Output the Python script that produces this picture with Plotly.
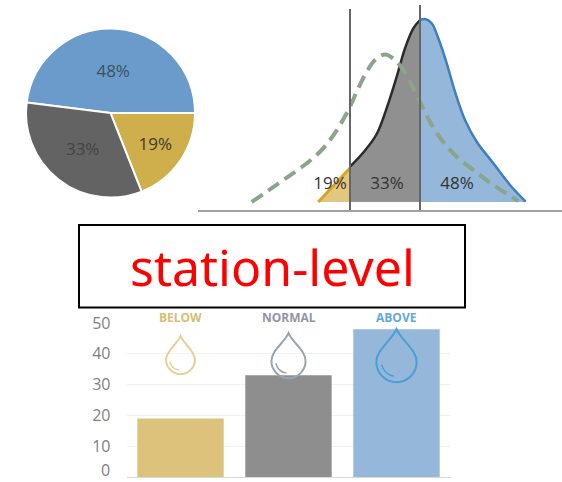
import plotly.graph_objects as go

W, H = 562, 482

# Tercile probabilities
pie_labels = ["Above", "Below", "Normal"]
pie_values = [48, 19, 33]
pie_colors = ["#6a9bcb", "#cfae4c", "#636363"]

# Forecast density, split at the two tercile boundaries
below_x = [120.3, 152]
below_y = [0, 34]
normal_x = [152, 165.3, 178.7, 190.3, 198.7, 207, 215.3, 222]
normal_y = [35.3, 49.5, 68, 98.7, 125.3, 153.7, 173.7, 182]
above_x = [222, 227, 233.7, 240.3, 248.7, 257, 267, 278.7, 295.3, 312, 327.7]
above_y = [182, 183, 178.7, 163.7, 138.7, 110.3, 82, 60.3, 38.7, 17, 0.3]

# Climatological density
clim_x = [53.7, 68.7, 85.3, 102, 118.7, 132, 142, 152, 160.3, 168.7, 177, 187,
          197, 205.3, 213.7, 222, 232, 243.7, 258.7, 275.3, 295.3, 320.3]
clim_y = [0, 10.3, 22, 33.7, 47, 62, 77, 95.3, 113.7, 130.3, 142, 147.5,
          142, 132, 117, 100.3, 80.3, 62, 45.3, 32, 17, 1]

boundaries = [152, 222]
boundary_tops = [193, 197]
curve_label_x = [132, 189, 259]
curve_label_y = [17, 17, 17]
curve_labels = ["19%", "33%", "48%"]

# Bar panel
categories = ["BELOW", "NORMAL", "ABOVE"]
bar_values = [19, 33, 48]
bar_colors = ["#dcc27a", "#8e8e8e", "#94b7da"]
header_colors = ["#d9bd72", "#8f97a6", "#5fa8d8"]
drop_colors = ["#e6cf92", "#9aa3b0", "#4a9fd4"]
drop_base = [33.4, 32.1, 30.8]
drop_heights = [38, 45, 53]
tick_values = [10, 20, 30, 40, 50]
baseline_tick = "0"


def drop_path(h):
    """Outline of a water drop, in pixels above its lowest point."""
    w = h * 0.38
    r = w
    return (
        f"M 0,{h} C {w * 0.25:.1f},{h * 0.78:.1f} {w},{h * 0.62:.1f} {w},{r:.1f} "
        f"C {w},{r * 0.45:.1f} {w * 0.55:.1f},0 0,0 "
        f"C {-w * 0.55:.1f},0 {-w},{r * 0.45:.1f} {-w},{r:.1f} "
        f"C {-w},{h * 0.62:.1f} {-w * 0.25:.1f},{h * 0.78:.1f} 0,{h} Z"
    )


def glint_path(h):
    """Small curved highlight inside a drop."""
    w = h * 0.38
    return (
        f"M {-w * 0.74:.1f},{h * 0.33:.1f} "
        f"Q {-w * 0.6:.1f},{h * 0.14:.1f} {-w * 0.12:.1f},{h * 0.11:.1f}"
    )


fig = go.Figure()

fig.add_trace(go.Pie(
    labels=pie_labels,
    values=pie_values,
    sort=False,
    direction="clockwise",
    rotation=-82.8,
    marker=dict(colors=pie_colors, line=dict(color="white", width=2)),
    text=["48%", "19%", "33%"],
    textinfo="text",
    textposition="inside",
    insidetextorientation="horizontal",
    insidetextfont=dict(family="Open Sans", size=17, color=["#3f4f60", "#3d3a2c", "#444444"]),
    domain=dict(x=[26 / W, 195 / W], y=[1 - 199 / H, 1 - 27 / H]),
    showlegend=False,
    hoverinfo="skip",
))

# Density panel
for xs, ys, line_col, line_w, fill_col in [
    (below_x, below_y, "#d9a520", 3, "#e3c77f"),
    (normal_x, normal_y, "#2b2b2b", 2.5, "#909090"),
    (above_x, above_y, "#3f7fbf", 2.5, "#94b7da"),
]:
    fig.add_trace(go.Scatter(
        x=xs, y=ys, mode="lines", xaxis="x", yaxis="y",
        line=dict(color=line_col, width=line_w, shape="spline", smoothing=1),
        fill="tozeroy", fillcolor=fill_col,
        showlegend=False, hoverinfo="skip",
    ))

fig.add_trace(go.Scatter(
    x=clim_x, y=clim_y, mode="lines", xaxis="x", yaxis="y",
    line=dict(color="#8aa58a", width=4, dash="13px,7px", shape="spline", smoothing=1),
    showlegend=False, hoverinfo="skip",
))

for bx, top in zip(boundaries, boundary_tops):
    fig.add_trace(go.Scatter(
        x=[bx, bx], y=[-8, top], mode="lines", xaxis="x", yaxis="y",
        line=dict(color="#666666", width=2),
        showlegend=False, hoverinfo="skip",
    ))

fig.add_trace(go.Scatter(
    x=curve_label_x, y=curve_label_y, text=curve_labels, mode="text",
    xaxis="x", yaxis="y",
    textfont=dict(family="Open Sans", size=17, color="#333333"),
    showlegend=False, hoverinfo="skip",
))

# Bar panel
fig.add_trace(go.Bar(
    x=categories, y=bar_values, xaxis="x2", yaxis="y2", width=0.8,
    marker=dict(color=bar_colors, line=dict(width=0)),
    showlegend=False, hoverinfo="skip",
))

shapes = [dict(
    type="rect", xref="paper", yref="paper",
    x0=79 / W, x1=465 / W, y0=1 - 307.5 / H, y1=1 - 225 / H,
    fillcolor="white", line=dict(color="black", width=2),
)]

for i, cat in enumerate(categories):
    for path, width in [(drop_path(drop_heights[i]), 2), (glint_path(drop_heights[i]), 1.5)]:
        shapes.append(dict(
            type="path", xref="x2", yref="y2",
            xsizemode="pixel", ysizemode="pixel",
            xanchor=i, yanchor=drop_base[i],
            path=path, line=dict(color=drop_colors[i], width=width),
            layer="above",
        ))

annotations = [dict(
    text="station-level", xref="paper", yref="paper",
    x=272 / W, y=1 - 267 / H, xanchor="center", yanchor="middle",
    showarrow=False, font=dict(family="Noto Sans", size=50, color="#ff0000"),
)]
for cat, col in zip(categories, header_colors):
    annotations.append(dict(
        text=cat, xref="x2", yref="paper", x=cat, y=1 - 317 / H,
        xanchor="center", yanchor="middle", showarrow=False,
        font=dict(family="Open Sans", size=12, color=col, weight="bold"),
    ))
# The lowest tick sits against the page edge, so its label rests on that edge
annotations.append(dict(
    text=baseline_tick, xref="paper", yref="paper", x=111 / W, y=0,
    xanchor="right", yanchor="bottom", showarrow=False, borderpad=0,
    font=dict(family="Open Sans", size=16, color="#808080"),
))

fig.update_layout(
    width=W, height=H,
    margin=dict(l=0, r=0, t=0, b=0, autoexpand=False),
    paper_bgcolor="white", plot_bgcolor="rgba(0,0,0,0)",
    bargap=0.2,
    shapes=shapes,
    annotations=annotations,
    xaxis=dict(
        domain=[198 / W, 1], range=[0, 364], anchor="y", automargin=False,
        showgrid=False, zeroline=False, showticklabels=False, ticks="",
        showline=True, linecolor="#a0a0a0", linewidth=2,
    ),
    yaxis=dict(
        domain=[1 - 210 / H, 1], range=[-8, 202], anchor="x", automargin=False,
        showgrid=False, zeroline=False, showticklabels=False, ticks="",
    ),
    xaxis2=dict(
        domain=[126.5 / W, 450.5 / W], anchor="y2", automargin=False,
        type="category", categoryorder="array", categoryarray=categories,
        range=[-0.5, 2.5], showgrid=False, zeroline=False,
        showticklabels=False, ticks="",
        showline=True, linecolor="#d9d9d9", linewidth=1,
    ),
    yaxis2=dict(
        domain=[(H - 477) / H, (H - 323) / H], range=[0, 50], anchor="x2", automargin=False,
        tickvals=tick_values, showgrid=True, gridcolor="#f0f0f0", gridwidth=1,
        zeroline=False, ticks="", ticklabelstandoff=15,
        tickfont=dict(family="Open Sans", size=16, color="#808080"),
    ),
)

fig.write_html("out.html", config=dict(displayModeBar=False))
